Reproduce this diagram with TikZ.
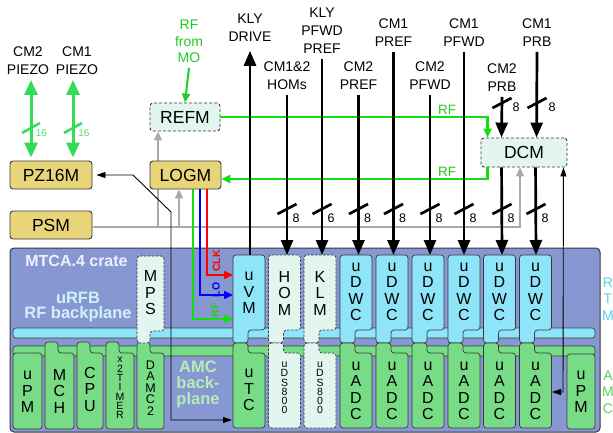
\documentclass[tikz,border=0pt]{standalone}
\usepackage{fontspec}
\setmainfont{Liberation Sans}
\usetikzlibrary{arrows.meta}
\definecolor{crate}{HTML}{8797D1}
\definecolor{rtm}{HTML}{8EE4F8}
\definecolor{amc}{HTML}{78DC86}
\definecolor{mint}{HTML}{E2F6EF}
\definecolor{ybox}{HTML}{E8D57A}
\definecolor{pgreen}{HTML}{33DD55}
\definecolor{rfg}{HTML}{11DD11}
\definecolor{tgreen}{HTML}{22CC22}
\definecolor{lgreen}{HTML}{55DD66}
\definecolor{gline}{HTML}{AAAAAA}
\definecolor{edge}{HTML}{3A3A3A}
\definecolor{cratetxt}{HTML}{EEF0FF}
\definecolor{rfbtxt}{HTML}{CFF1FA}
\definecolor{amctxt}{HTML}{B5EDB5}
\definecolor{rtmlbl}{HTML}{5CCFEA}
\definecolor{amclbl}{HTML}{5ECF5E}
\tikzset{
  lbl/.style={align=center,font=\fontsize{14}{18}\selectfont,inner sep=2pt,outer sep=3pt},
  ybx/.style={draw=edge,line width=0.9pt,rounded corners=3pt,fill=ybox,minimum height=28pt,font=\fontsize{17.5}{20}\selectfont,inner sep=0pt},
  mbx/.style={draw=edge,line width=0.9pt,dash pattern=on 3pt off 2pt,rounded corners=3pt,fill=mint,minimum height=28pt,font=\fontsize{17.5}{20}\selectfont,inner sep=0pt},
  modt/.style={align=center,font=\fontsize{16}{16.5}\selectfont,inner sep=0pt},
  rtmf/.style={draw=edge,line width=0.7pt,rounded corners=3pt,fill=rtm},
  amcf/.style={draw=edge,line width=0.7pt,rounded corners=3pt,fill=amc},
  mintf/.style={draw=edge,line width=0.7pt,rounded corners=3pt,fill=mint,dash pattern=on 2.5pt off 1.5pt},
  strip/.style={draw=edge,line width=0.6pt,rounded corners=3pt},
  thk/.style={line width=2.7pt,-{Triangle[length=15pt,width=12pt]}},
  pz/.style={line width=3pt,draw=pgreen,{Triangle[length=15pt,width=13pt]}-{Triangle[length=15pt,width=13pt]}},
  gry/.style={line width=2pt,draw=gline,-{Triangle[length=9pt,width=8pt]}},
  gryl/.style={line width=2pt,draw=gline},
  rfl/.style={line width=2.2pt,draw=rfg,-{Triangle[length=9pt,width=8pt]}},
  clr/.style={line width=1.6pt,-{Triangle[length=9pt,width=8pt]}},
  thn/.style={line width=0.9pt,{Triangle[length=9pt,width=6pt]}-{Triangle[length=9pt,width=6pt]}},
  sl/.style={line width=2.7pt},
  sll/.style={font=\fontsize{12.5}{13}\selectfont,inner sep=0pt},
  rfla/.style={font=\fontsize{13.5}{14}\selectfont,text=tgreen,inner sep=0pt},
  vlab/.style={rotate=90,font=\bfseries\fontsize{10.5}{11}\selectfont,inner sep=0pt},
}
\newcommand\rtmshape[2]{\draw[#2] (#1,255) -- ++(32,0) -- ++(0,75) -- ++(-17,0) -- ++(0,13) -- ++(-15,0) -- cycle;}
\newcommand\amcshape[2]{\draw[#2] (#1,343) -- ++(15,0) -- ++(0,10) -- ++(17,0) -- ++(0,75) -- ++(-32,0) -- cycle;}
\newcommand\tabshape[2]{\draw[amcf] (#1,342) -- ++(13,0) -- ++(0,11) -- (#1+#2,353) -- (#1+#2,429) -- (#1,429) -- cycle;}
\newcommand\slashmark[4]{\draw[sl] (#1-9.5,#2+5) -- (#1+9.5,#2-5);
  \node[sll] (#3) at (#1+9,#2+9) {#4};}
\begin{document}
\begin{tikzpicture}[x=1pt,y=-1pt]
\useasboundingbox (0,0) rectangle (613,433);
% crate
\draw[draw=edge,line width=1pt,rounded corners=4pt,fill=crate] (10,248) rectangle (600,432);
\draw[strip,fill=rtm] (13,328) rectangle (595,338);
\draw[strip,fill=amc] (13,346) rectangle (595,356);
\node[font=\bfseries\fontsize{16}{16}\selectfont,text=cratetxt,inner sep=0pt] (crl) at (76.5,260.5) {MTCA.4 crate};
\node[font=\bfseries\fontsize{16.5}{15.5}\selectfont,text=rfbtxt,align=center,inner sep=0pt] (rfb) at (78,307) {uRFB\\RF backplane};
\node[font=\bfseries\fontsize{16.5}{16}\selectfont,text=amctxt,align=center,inner sep=0pt] (amcb) at (198,384) {AMC\\back-\\plane};
\node[font=\fontsize{14}{16.5}\selectfont,text=rtmlbl,align=center,inner sep=0pt] (rtml) at (608,299) {R\\T\\M};
\node[font=\fontsize{14}{16.5}\selectfont,text=amclbl,align=center,inner sep=0pt] (amcl) at (608,392) {A\\M\\C};
% AMC-only modules
\draw[amcf] (13,353) rectangle (42,429);
\node[modt] (uPMa) at (27.5,392) {u\\P\\M};
\tabshape{45}{29}\node[modt] (MCH) at (59.5,391) {M\\C\\H};
\tabshape{77}{26}\node[modt] (CPU) at (90,389) {C\\P\\U};
\tabshape{106}{28}\node[modt,font=\fontsize{10.5}{9.3}\selectfont] (TMR) at (120,388) {x\\2\\T\\I\\M\\E\\R};
\tabshape{137}{27}\node[modt,font=\fontsize{12.5}{11.5}\selectfont] (DAMC) at (150.5,388) {D\\A\\M\\C\\2};
\draw[mintf] (137,256) -- (164,256) -- (164,331) -- (150,331) -- (150,343) -- (137,343) -- cycle;
\node[modt] (MPS) at (150.5,293) {M\\P\\S};
\draw[amcf] (567,354) rectangle (595,429);
\node[modt] (uPMb) at (581,392) {u\\P\\M};
% columns
\rtmshape{233}{rtmf}\amcshape{233}{amcf}
\node[modt] (uVM) at (249,293) {u\\V\\M};
\node[modt] (uTC) at (249,390) {u\\T\\C};
\rtmshape{268.5}{mintf}\amcshape{268.5}{mintf}
\node[modt] (HOM) at (284.5,293) {H\\O\\M};
\node[modt,font=\fontsize{10.5}{9.3}\selectfont] (uDSa) at (284.5,388) {u\\D\\S\\8\\0\\0};
\rtmshape{304}{mintf}\amcshape{304}{mintf}
\node[modt] (KLM) at (320,293) {K\\L\\M};
\node[modt,font=\fontsize{10.5}{9.3}\selectfont] (uDSb) at (320,388) {u\\D\\S\\8\\0\\0};
\foreach \L/\n in {340/1,376/2,412/3,448/4,483.5/5,519.5/6}{
  \rtmshape{\L}{rtmf}\amcshape{\L}{amcf}
  \node[modt] (uDWC\n) at (\L+16,292) {u\\D\\W\\C};
  \node[modt] (uADC\n) at (\L+16,391) {u\\A\\D\\C};
}
% module top coordinates
\coordinate (tVM) at (250,255);
\coordinate (tHOM) at (287,255);
\coordinate (tKLM) at (322,255);
\coordinate (tD1) at (358.5,255);
\coordinate (tD2) at (393.5,255);
\coordinate (tD3) at (430,255);
\coordinate (tD4) at (464,255);
\coordinate (tD5) at (502,255);
\coordinate (tD6) at (536,255);
\coordinate (vmCLK) at (233,275);
\coordinate (vmLO) at (233,295);
\coordinate (vmRF) at (233,319);
\coordinate (tcL) at (232,420);
\coordinate (adR) at (552,392);
% boxes
\node[ybx,minimum width=82pt] (PZ) at (51,175) {PZ16M};
\node[ybx,minimum width=82pt] (PSM) at (51,225) {PSM};
% gray lines
\coordinate (gA) at (158,227);
\coordinate (gB) at (179,227);
\node[mbx,minimum width=70pt] (REFM) at (185,117) {REFM};
\node[mbx,minimum width=86pt,minimum height=29pt] (DCM) at (524,152.5) {DCM};
\draw[gry] ([yshift=-2pt]PSM.east) -| ([xshift=-4pt]DCM.south);
\draw[gry] (gA) -- (gA |- REFM.south);
\node[ybx,minimum width=71pt] (LOGM) at (185.5,175) {LOGM};
\draw[gry] (gB) -- (gB |- LOGM.south);
% top labels
\node[lbl] (lP2) at (28,61) {CM2\\PIEZO};
\node[lbl] (lP1) at (77,61) {CM1\\PIEZO};
\node[lbl,text=tgreen,font=\fontsize{14}{16.5}\selectfont] (lMO) at (189,41.5) {RF\\from\\MO};
\node[lbl] (lKD) at (250,28) {KLY\\DRIVE};
\node[lbl] (lHOM) at (287,76) {CM1\&2\\HOMs};
\node[lbl] (lKLM) at (322,31) {KLY\\PFWD\\PREF};
\node[lbl] (l2PR) at (358.5,76) {CM2\\PREF};
\node[lbl] (l1PR) at (393.5,33) {CM1\\PREF};
\node[lbl] (l2PF) at (430,76) {CM2\\PFWD};
\node[lbl] (l1PF) at (464,33) {CM1\\PFWD};
\node[lbl] (l2PB) at (502,78) {CM2\\PRB};
\node[lbl] (l1PB) at (537,33) {CM1\\PRB};
% piezo
\draw[pz,shorten >=3pt] ([xshift=3pt]lP2.south) -- ([xshift=-20pt]PZ.north);
\draw[pz,shorten >=3pt] ([xshift=-4pt]lP1.south) -- ([xshift=22pt]PZ.north);
\draw[pgreen,line width=2.5pt] (22,133) -- (40,123);
\draw[pgreen,line width=2.5pt] (64,133) -- (82,123);
\node[font=\fontsize{10}{10}\selectfont,text=lgreen,inner sep=0pt] (n16a) at (41.5,133) {16};
\node[font=\fontsize{10}{10}\selectfont,text=lgreen,inner sep=0pt] (n16b) at (84,133) {16};
% RF green
\draw[rfl,draw=tgreen,line width=2pt] (lMO.south) -- (REFM.north);
\draw[rfl] (REFM.east) -| ([xshift=7pt]DCM.north west);
\draw[rfl] ([xshift=7pt]DCM.south west) |- ([yshift=-4pt]LOGM.east);
\node[rfla] (rf1) at (447,110) {RF};
\node[rfla] (rf2) at (447,172) {RF};
% LOGM to uVM
\draw[clr,draw=rfg] ([xshift=7.5pt]LOGM.south) |- (vmRF);
\draw[clr,draw=blue] ([xshift=14.5pt]LOGM.south) |- (vmLO);
\draw[clr,draw=red] ([xshift=21.5pt]LOGM.south) |- (vmCLK);
\node[vlab,text=red] (lCLK) at (216.5,261) {CLK};
\node[vlab,text=blue] (lLO) at (216,290) {LO};
\node[vlab,text=tgreen] (lRF) at (215,310.5) {RF};
% thin black
\draw[thn] ([xshift=4pt]PZ.east) -- (133,175) -- (171,212) -- (171,420) -- (tcL);
\draw[thn] ([xshift=-4pt]DCM.south east) -- (563,392) -- (adR);
% thick black
\draw[thk] (tVM) -- ([yshift=-4pt]lKD.south);
\draw[thk] (lHOM.south) -- (tHOM);
\draw[thk] (lKLM.south) -- (tKLM);
\draw[thk] (l2PR.south) -- (tD1);
\draw[thk] (l1PR.south) -- (tD2);
\draw[thk] (l2PF.south) -- (tD3);
\draw[thk] (l1PF.south) -- (tD4);
\draw[thk] ([xshift=21pt]DCM.south west) -- (tD5);
\draw[thk] ([xshift=55pt]DCM.south west) -- (tD6);
\draw[thk] (l2PB.south) -- ([xshift=21pt]DCM.north west);
\draw[thk] (l1PB.south) -- ([xshift=56pt]DCM.north west);
% slashes
\slashmark{287}{209}{s1}{8}
\slashmark{322}{209}{s2}{6}
\slashmark{358.5}{209}{s3}{8}
\slashmark{393.5}{209}{s4}{8}
\slashmark{430}{209}{s5}{8}
\slashmark{464}{209}{s6}{8}
\slashmark{502}{209}{s7}{8}
\slashmark{536}{209}{s8}{8}
\draw[sl] (492.5,108) -- (511.5,98);
\node[sll] (s9) at (516,107) {8};
\draw[sl] (527.5,108) -- (546.5,98);
\node[sll] (s10) at (552,107) {8};
\end{tikzpicture}
\end{document}
